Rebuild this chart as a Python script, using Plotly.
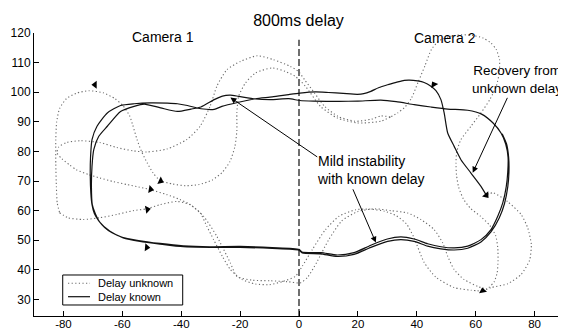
import plotly.graph_objects as go

# ---------------- axis ticks ----------------
x_ticks = [-80, -60, -40, -20, 0, 20, 40, 60, 80]
x_tick_labels = ["-80", "-60", "-40", "-20", "0", "20", "40", "60", "80"]
y_ticks = [30, 40, 50, 60, 70, 80, 90, 100, 110, 120]
y_tick_labels = ["30", "40", "50", "60", "70", "80", "90", "100", "110", "120"]

# ---------------- "Delay unknown" trajectory pieces (x, y) ----------------
unk_bottom_wave_1 = [(-81.3, 59.3), (-78.5, 57.6), (-73.3, 57.0), (-67.6, 57.6), (-61.9, 58.7),
                     (-56.3, 60.0), (-51.7, 60.6), (-47.2, 62.0), (-41.5, 63.1), (-37.0, 62.0),
                     (-33.6, 59.3), (-31.3, 54.7), (-29.0, 50.2), (-26.0, 44.5), (-23.3, 40.1),
                     (-19.5, 36.8), (-14.8, 35.2), (-10.0, 35.0), (-5.7, 36.0), (-1.2, 37.8),
                     (1.1, 41.2), (4.5, 46.8), (9.0, 53.6), (13.6, 58.1), (19.3, 60.3),
                     (24.0, 60.5), (29.0, 59.8), (33.0, 58.3), (36.5, 55.5), (39.0, 51.0),
                     (42.5, 42.5), (46.5, 37.5), (52.7, 34.0), (58.4, 33.1), (62.4, 32.8)]

unk_right_inner = [(62.4, 32.8), (64.5, 34.0), (66.3, 36.0), (67.3, 39.0), (67.6, 43.0),
                   (67.5, 47.5), (66.8, 51.5), (64.8, 55.0), (61.5, 58.2), (58.2, 60.8),
                   (55.8, 64.0), (54.2, 68.0), (53.5, 72.0), (53.3, 76.0), (53.6, 80.0),
                   (55.0, 84.0), (58.4, 88.5), (61.8, 93.0), (64.8, 97.5), (67.0, 102.0),
                   (68.0, 106.5), (68.1, 111.0), (67.0, 114.4), (65.2, 116.6), (62.5, 118.3),
                   (59.0, 119.2), (55.0, 119.4), (51.0, 118.8), (47.5, 117.3), (45.0, 114.5),
                   (42.8, 109.0), (40.5, 103.5), (38.2, 98.0), (36.0, 95.0), (33.5, 93.0),
                   (31.0, 91.6)]

unk_top_arc_1 = [(31.0, 91.6), (27.8, 92.0), (24.7, 90.9), (19.0, 90.2), (13.3, 91.8),
                 (8.7, 95.2), (5.3, 99.7), (1.9, 104.2), (-0.2, 107.0), (-2.9, 108.7),
                 (-8.7, 111.0), (-14.2, 112.3), (-19.9, 110.4), (-24.5, 107.6), (-27.9, 102.0),
                 (-30.2, 95.2), (-33.6, 88.5), (-38.1, 84.0), (-44.9, 80.8), (-51.7, 79.8),
                 (-56.4, 80.2), (-61.9, 81.3), (-67.6, 83.0), (-74.4, 83.6), (-79.0, 83.0),
                 (-81.6, 81.5), (-82.2, 79.5), (-80.5, 77.5), (-78.0, 75.5), (-75.6, 73.8),
                 (-71.5, 72.2), (-67.6, 71.0), (-63.0, 69.8), (-58.5, 68.8), (-54.5, 68.0),
                 (-50.6, 67.1), (-44.9, 65.4), (-40.5, 63.8), (-36.9, 62.0), (-32.4, 58.1),
                 (-27.9, 51.3), (-23.3, 42.3), (-21.1, 37.8), (-16.0, 36.5), (-9.7, 36.3),
                 (-4.0, 36.0), (0.5, 35.6), (3.0, 37.6), (6.0, 42.5), (10.0, 50.0),
                 (14.5, 56.5), (20.0, 59.7), (26.0, 60.6), (31.2, 60.0), (36.9, 59.2),
                 (41.4, 57.0), (45.9, 53.6), (48.8, 49.1), (50.5, 44.6), (52.7, 40.1),
                 (56.1, 36.7), (60.7, 34.4), (63.5, 33.5)]

unk_top_arc_2 = [(31.0, 91.6), (27.8, 90.2), (19.8, 89.6), (13.0, 91.3), (7.3, 95.2),
                 (2.2, 102.0), (-1.2, 105.3), (-4.6, 107.0), (-9.1, 108.2), (-14.8, 106.5),
                 (-18.2, 103.1), (-20.5, 98.6), (-21.1, 93.0), (-21.1, 87.0), (-21.8, 81.5),
                 (-23.5, 76.5), (-26.0, 73.0), (-29.5, 70.3), (-34.0, 68.8), (-38.5, 68.4),
                 (-43.0, 69.0), (-47.2, 70.2), (-49.6, 72.8), (-51.6, 76.2), (-53.5, 80.0),
                 (-55.0, 84.0), (-56.5, 89.0), (-57.5, 92.0), (-59.8, 95.5), (-62.5, 97.8),
                 (-66.5, 99.8), (-71.4, 100.5), (-75.5, 99.7), (-79.0, 97.8), (-81.3, 94.5),
                 (-82.3, 90.0), (-82.6, 84.0), (-82.6, 76.0), (-82.4, 68.0), (-82.1, 62.5),
                 (-81.3, 59.3)]

unk_right_outer = [(62.4, 32.8), (65.2, 34.0), (70.9, 35.3), (75.5, 38.5), (78.3, 43.2),
                   (78.9, 48.5), (77.7, 54.1), (75.5, 58.6), (70.9, 63.0), (66.0, 66.0),
                   (63.5, 65.4)]

# ---------------- "Delay known" trajectory (x, y) ----------------
known_path = [(63.5, 65.4), (61.8, 68.2), (58.4, 72.7), (55.0, 77.2), (52.7, 81.7), (50.5, 86.2),
              (49.3, 93.0), (48.2, 97.5), (46.5, 100.5), (44.8, 102.0), (42.5, 103.3), (40.3, 103.8),
              (37.5, 104.1), (35.7, 104.0), (33.0, 103.3), (30.1, 102.5), (27.0, 101.5), (24.4, 100.3),
              (22.0, 99.5), (19.8, 99.3), (15.0, 99.6), (10.0, 99.9), (5.6, 100.1), (0.3, 99.7),
              (-3.5, 99.2), (-9.1, 98.4), (-14.8, 97.8), (-20.5, 96.6), (-26.2, 95.2), (-28.8, 94.2),
              (-33.3, 94.4), (-37.9, 95.5), (-41.3, 96.1), (-44.7, 96.3), (-50.4, 96.4), (-56.0, 96.1),
              (-60.6, 95.5), (-65.1, 93.0), (-68.6, 88.5), (-70.3, 84.0), (-70.8, 78.0), (-70.9, 72.0),
              (-70.7, 66.0), (-70.3, 62.0), (-69.5, 59.0), (-68.0, 56.5), (-66.0, 54.3), (-63.5, 52.5),
              (-60.0, 51.0), (-55.0, 50.0), (-47.2, 48.9), (-39.3, 48.1), (-30.2, 47.8), (-20.0, 47.9),
              (-9.1, 47.5), (0.0, 46.9), (1.0, 46.0), (7.5, 45.8), (13.0, 45.0), (18.7, 45.8),
              (24.4, 48.3), (30.0, 50.4), (34.6, 51.1), (39.1, 50.4), (43.7, 48.8), (48.2, 47.8),
              (52.7, 47.4), (57.3, 48.0), (61.8, 50.2), (65.2, 53.6), (67.5, 58.1), (69.2, 62.6),
              (70.4, 68.2), (70.9, 73.0), (71.0, 78.0), (70.2, 82.5), (68.6, 86.2), (66.0, 89.5),
              (62.0, 92.6), (57.3, 93.9), (50.5, 94.3), (44.8, 95.0), (39.1, 95.8), (33.0, 96.8),
              (27.8, 97.3), (20.0, 97.0), (13.6, 96.9), (5.0, 97.0), (0.3, 97.2), (-3.5, 97.8),
              (-9.1, 97.5), (-14.8, 97.7), (-20.5, 98.6), (-23.3, 99.0), (-26.0, 98.7), (-28.8, 97.5),
              (-33.3, 95.0), (-36.7, 94.3), (-41.3, 93.5), (-47.0, 94.7), (-52.6, 96.0), (-56.0, 95.2),
              (-60.6, 93.5), (-65.1, 88.5), (-68.0, 85.1), (-69.7, 80.6), (-70.3, 75.0), (-70.5, 68.0),
              (-70.2, 62.0), (-69.2, 59.0), (-67.6, 56.0), (-64.2, 53.0), (-59.7, 50.8), (-54.0, 49.6),
              (-47.2, 48.7), (-39.3, 47.8), (-30.2, 47.6), (-20.0, 47.6), (-9.1, 47.2), (0.0, 46.6),
              (1.1, 45.7), (7.3, 45.4), (13.0, 44.5), (18.7, 45.2), (24.4, 47.6), (30.1, 49.6),
              (34.6, 50.2), (39.1, 49.6), (43.7, 48.0), (48.2, 47.1), (52.7, 46.7), (57.3, 47.3),
              (61.8, 49.4), (65.2, 52.8), (68.0, 57.5), (69.8, 62.4), (70.9, 68.0), (71.3, 73.0),
              (71.2, 78.0), (70.5, 82.5), (69.0, 86.0)]

# ---------------- direction arrows (x, y, heading in degrees, clockwise from +x) ----------------
arrow_x = [-69.3, -47.0, -50.4, -51.5, -51.7, 45.8, 63.6, 62.4]
arrow_y = [102.5, 70.0, 67.2, 60.4, 47.6, 102.6, 65.2, 32.9]
arrow_heading = [180, 25, 10, -10, 5, -120, 50, -100]

# camera divider line
divider_x = [0, 0]
divider_y = [24.4, 117.7]

# legend entries
legend_names = ["Delay unknown", "Delay known"]

FONT = "Liberation Sans, Arial, Helvetica, sans-serif"
DOT_DASH = "1.2px,2.4px"
UNK_COLOR = "#6a6a6a"
KN_COLOR = "#111111"


def join_pieces(pieces):
    xs, ys = [], []
    for k, p in enumerate(pieces):
        if k:
            xs.append(None)
            ys.append(None)
        xs.extend(pt[0] for pt in p)
        ys.extend(pt[1] for pt in p)
    return xs, ys


unk_x, unk_y = join_pieces([unk_bottom_wave_1, unk_right_inner, unk_top_arc_1,
                            unk_top_arc_2, unk_right_outer])
kn_x, kn_y = join_pieces([known_path])

fig = go.Figure()

fig.add_trace(go.Scatter(
    x=divider_x, y=divider_y, mode="lines", showlegend=False, hoverinfo="skip",
    line=dict(color="#222222", width=1.3, dash="7px,3px")))

fig.add_trace(go.Scatter(
    x=unk_x, y=unk_y, mode="lines", name=legend_names[0], connectgaps=False, showlegend=False,
    line=dict(color=UNK_COLOR, width=1.1, dash=DOT_DASH, shape="spline", smoothing=0.6)))

fig.add_trace(go.Scatter(
    x=kn_x, y=kn_y, mode="lines", name=legend_names[1], showlegend=False,
    line=dict(color=KN_COLOR, width=1.2, shape="spline", smoothing=0.6)))

fig.add_trace(go.Scatter(
    x=arrow_x, y=arrow_y, mode="markers", showlegend=False, hoverinfo="skip",
    marker=dict(symbol="triangle-right", size=7, color="black", angle=arrow_heading,
                line=dict(width=0))))

ann_font = dict(family=FONT, size=14, color="black")
annotations = [
    dict(x=-46.2, y=118.6, xref="x", yref="y", text="Camera 1", showarrow=False, font=ann_font),
    dict(x=49.6, y=118.4, xref="x", yref="y", text="Camera 2", showarrow=False, font=ann_font),
    dict(x=5.4, y=73.6, xref="x", yref="y", text="Mild instability<br>with known delay",
         showarrow=False, xanchor="left", align="left", font=ann_font),
    dict(x=74.0, y=104.2, xref="x", yref="y", text="Recovery from<br>unknown delay",
         showarrow=False, xanchor="center", align="center",
         font=dict(family=FONT, size=13.5, color="black")),
    # pointer arrows
    dict(x=-23.3, y=98.2, ax=6.7, ay=77.8, xref="x", yref="y", axref="x", ayref="y",
         text="", showarrow=True, arrowhead=2, arrowsize=1.2, arrowwidth=1, arrowcolor="black"),
    dict(x=26.1, y=49.2, ax=18.1, ay=67.7, xref="x", yref="y", axref="x", ayref="y",
         text="", showarrow=True, arrowhead=2, arrowsize=1.2, arrowwidth=1, arrowcolor="black"),
    dict(x=59.0, y=72.8, ax=71.0, ay=98.6, xref="x", yref="y", axref="x", ayref="y",
         text="", showarrow=True, arrowhead=2, arrowsize=1.2, arrowwidth=1, arrowcolor="black"),
    # legend labels
    dict(x=0.1164, y=0.1155, xref="paper", yref="paper", text=legend_names[0], showarrow=False,
         xanchor="left", yanchor="middle", font=dict(family=FONT, size=11, color="black")),
    dict(x=0.1164, y=0.0682, xref="paper", yref="paper", text=legend_names[1], showarrow=False,
         xanchor="left", yanchor="middle", font=dict(family=FONT, size=11, color="black")),
]

shapes = [
    dict(type="rect", xref="paper", yref="paper", x0=0.0542, x1=0.2806, y0=0.0389, y1=0.1449,
         line=dict(color="black", width=1), fillcolor="white", layer="above"),
    dict(type="line", xref="paper", yref="paper", x0=0.0642, x1=0.1057, y0=0.1155, y1=0.1155,
         line=dict(color=UNK_COLOR, width=1.1, dash=DOT_DASH), layer="above"),
    dict(type="line", xref="paper", yref="paper", x0=0.0642, x1=0.1057, y0=0.0682, y1=0.0682,
         line=dict(color=KN_COLOR, width=1.2), layer="above"),
]

# The page body has an 8px margin, so the figure is sized to fill the rest of the window.
fig.update_layout(
    width=558, height=323,
    margin=dict(l=26, r=2, t=25, b=15),
    paper_bgcolor="white", plot_bgcolor="white",
    font=dict(family=FONT, size=12, color="black"),
    title=dict(text="800ms delay", x=0.5206, xanchor="center", y=0.963, yanchor="middle",
               font=dict(family=FONT, size=16, color="black")),
    annotations=annotations,
    shapes=shapes,
    showlegend=False,
)

fig.update_xaxes(range=[-90, 90], tickvals=x_ticks, ticktext=x_tick_labels,
                 ticks="inside", ticklen=5, tickcolor="black", showline=True,
                 linecolor="black", linewidth=1, showgrid=False, zeroline=False,
                 tickfont=dict(family=FONT, size=11.5, color="black"), automargin=False,
                 ticklabelstandoff=-3)
fig.update_yaxes(range=[24.4, 120], tickvals=y_ticks, ticktext=y_tick_labels,
                 ticks="inside", ticklen=5, tickcolor="black", showline=True,
                 linecolor="black", linewidth=1, showgrid=False, zeroline=False,
                 tickfont=dict(family=FONT, size=12, color="black"), automargin=False)

fig.write_html("out.html")
